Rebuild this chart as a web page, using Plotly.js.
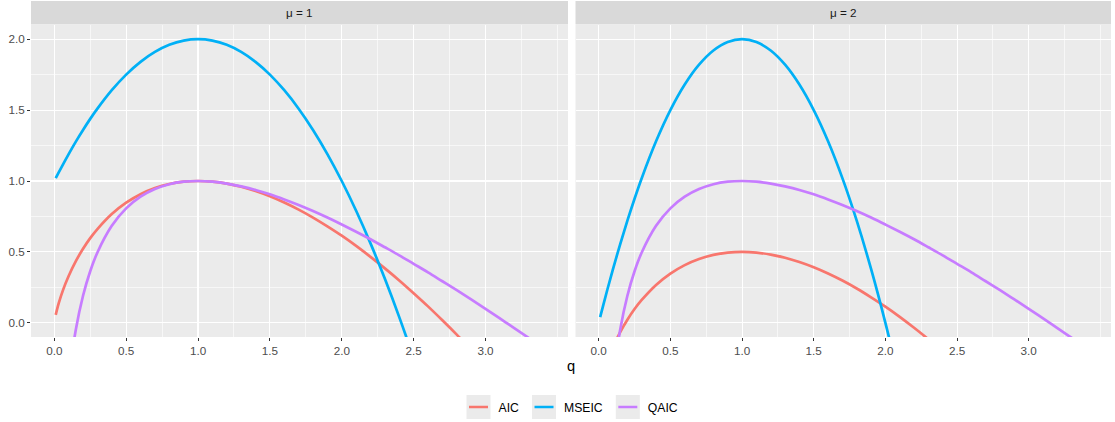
<!DOCTYPE html>
<html>
<head>
<meta charset="utf-8">
<script src="https://cdn.plot.ly/plotly-3.0.1.min.js"></script>
<style>html,body{margin:0;padding:0;background:#fff;}#chart{width:1115px;height:422px;}</style>
</head>
<body>
<div id="chart"></div>
<script>
// q values (x) shared by every curve
const q = [0.01,0.03,0.06,0.1,0.15,0.2,0.25,0.3,0.4,0.5,0.6,0.7,0.8,0.9,1.0,1.1,1.2,1.3,1.4,1.5,1.6,1.7,1.8,1.9,2.0,2.1,2.2,2.3,2.4,2.5,2.6,2.7,2.8,2.9,3.0,3.1,3.2,3.3,3.4];

// panel mu = 1
const aicMu1 = [0.056,0.135,0.229,0.330,0.435,0.522,0.597,0.661,0.767,0.847,0.907,0.950,0.979,0.995,1.000,0.995,0.981,0.959,0.929,0.892,0.848,0.798,0.742,0.680,0.614,0.542,0.465,0.384,0.299,0.209,0.116,0.018,-0.083,-0.188,-0.296,-0.407,-0.522,-0.640,-0.761];
const mseicMu1 = [1.020,1.059,1.116,1.190,1.278,1.360,1.438,1.510,1.640,1.750,1.840,1.910,1.960,1.990,2.000,1.990,1.960,1.910,1.840,1.750,1.640,1.510,1.360,1.190,1.000,0.790,0.560,0.310,0.040,-0.250,-0.560,-0.890,-1.240,-1.610,-2.000,-2.410,-2.840,-3.290,-3.760];
const qaicMu1 = [-2.615,-1.537,-0.873,-0.403,-0.047,0.191,0.364,0.496,0.684,0.807,0.889,0.943,0.977,0.995,1.000,0.995,0.982,0.962,0.937,0.906,0.870,0.831,0.788,0.742,0.693,0.642,0.589,0.533,0.476,0.416,0.356,0.293,0.230,0.165,0.099,0.031,-0.037,-0.106,-0.176];

// panel mu = 2
const aicMu2 = [-0.444,-0.365,-0.271,-0.170,-0.065,0.022,0.097,0.161,0.267,0.347,0.407,0.450,0.479,0.495,0.500,0.495,0.481,0.459,0.429,0.392,0.348,0.298,0.242,0.180,0.114,0.042,-0.035,-0.116,-0.201,-0.291,-0.384,-0.482,-0.583,-0.688,-0.796,-0.907,-1.022,-1.140,-1.261];
const mseicMu2 = [0.040,0.118,0.233,0.380,0.555,0.720,0.875,1.020,1.280,1.500,1.680,1.820,1.920,1.980,2.000,1.980,1.920,1.820,1.680,1.500,1.280,1.020,0.720,0.380,0.000,-0.420,-0.880,-1.380,-1.920,-2.500,-3.120,-3.780,-4.480,-5.220,-6.000,-6.820,-7.680,-8.580,-9.520];
const qaicMu2 = [-2.615,-1.537,-0.873,-0.403,-0.047,0.191,0.364,0.496,0.684,0.807,0.889,0.943,0.977,0.995,1.000,0.995,0.982,0.962,0.937,0.906,0.870,0.831,0.788,0.742,0.693,0.642,0.589,0.533,0.476,0.416,0.356,0.293,0.230,0.165,0.099,0.031,-0.037,-0.106,-0.176];

const seriesNames = ["AIC","MSEIC","QAIC"];
const panelLabels = ["μ = 1","μ = 2"];
const xTickVals = [0,0.5,1,1.5,2,2.5,3];
const xTickText = ["0.0","0.5","1.0","1.5","2.0","2.5","3.0"];
const yTickVals = [0,0.5,1,1.5,2];
const yTickText = ["0.0","0.5","1.0","1.5","2.0"];
const xTitle = "q";

const colors = {AIC:"#F8766D", MSEIC:"#00B0F6", QAIC:"#C77CFF"};
const FONT = "Liberation Sans, Arial, Helvetica, sans-serif";

const panels = [
  {AIC:aicMu1, MSEIC:mseicMu1, QAIC:qaicMu1, xa:"x", ya:"y"},
  {AIC:aicMu2, MSEIC:mseicMu2, QAIC:qaicMu2, xa:"x2", ya:"y2"}
];

const traces = [];
panels.forEach((p, i) => {
  seriesNames.forEach(name => {
    traces.push({
      type:"scatter", mode:"lines", x:q, y:p[name], name:name,
      xaxis:p.xa, yaxis:p.ya, legendgroup:name, showlegend:i===0,
      line:{color:colors[name], width:2.7, shape:"spline", smoothing:1},
      hoverinfo:"skip"
    });
  });
});

const W = 1115, H = 422;
const dom1 = [31/W, 568/W];
const dom2 = [575.5/W, 1111/W];
const yDom = [(H-337)/H, (H-25)/H];
const xRange = [-0.162, 3.574];
const yRange = [-0.1, 2.1];

function xAxis(dom, anchor){
  return {
    domain:dom, anchor:anchor, range:xRange, tickmode:"array", tickvals:xTickVals, ticktext:xTickText,
    showgrid:true, gridcolor:"#FFFFFF", gridwidth:1.1, zeroline:false, showline:false,
    ticks:"outside", ticklen:3, tickwidth:1, tickcolor:"#333333",
    tickfont:{family:FONT, size:11.7, color:"#4D4D4D"},
    minor:{tickmode:"linear", tick0:0, dtick:0.25, showgrid:true, gridcolor:"#FFFFFF", gridwidth:0.6, ticks:""},
    fixedrange:true
  };
}
function yAxis(dom, anchor, labels){
  return {
    domain:dom, anchor:anchor, range:yRange, tickmode:"array", tickvals:yTickVals, ticktext:yTickText,
    showticklabels:labels, ticks:labels ? "outside" : "", ticklen:3, tickwidth:1, tickcolor:"#333333",
    showgrid:true, gridcolor:"#FFFFFF", gridwidth:1.1, zeroline:false, showline:false,
    tickfont:{family:FONT, size:11.7, color:"#4D4D4D"},
    minor:{tickmode:"linear", tick0:0, dtick:0.25, showgrid:true, gridcolor:"#FFFFFF", gridwidth:0.6, ticks:""},
    fixedrange:true
  };
}

const stripY0 = (H-24.5)/H, stripY1 = (H-1)/H;
const shapes = [dom1, dom2].map(d => ({
  type:"rect", xref:"paper", yref:"paper", x0:d[0], x1:d[1], y0:stripY0, y1:stripY1,
  fillcolor:"#D9D9D9", line:{width:0}, layer:"below"
}));
const annotations = [dom1, dom2].map((d, i) => ({
  xref:"paper", yref:"paper", x:(d[0]+d[1])/2, y:(stripY0+stripY1)/2, xanchor:"center", yanchor:"middle",
  text:panelLabels[i], showarrow:false, font:{family:FONT, size:11.7, color:"#1A1A1A"}
}));
annotations.push({
  xref:"paper", yref:"paper", x:(dom1[0]+dom2[1])/2, y:(H-366)/H, xanchor:"center", yanchor:"middle",
  text:xTitle, showarrow:false, font:{family:FONT, size:14.7, color:"#000000"}
});

const layout = {
  width:W, height:H, margin:{l:0, r:0, t:0, b:0},
  paper_bgcolor:"#FFFFFF", plot_bgcolor:"#EBEBEB",
  font:{family:FONT, color:"#000000"},
  xaxis:xAxis(dom1, "y"), xaxis2:xAxis(dom2, "y2"),
  yaxis:yAxis(yDom, "x", true), yaxis2:yAxis(yDom, "x2", false),
  shapes:shapes, annotations:annotations,
  showlegend:true,
  legend:{orientation:"h", x:(dom1[0]+dom2[1])/2, xanchor:"center", y:(H-407)/H, yanchor:"middle",
          font:{family:FONT, size:12.2, color:"#000000"}, bgcolor:"rgba(0,0,0,0)", itemwidth:30, tracegroupgap:0}
};

Plotly.newPlot("chart", traces, layout, {displayModeBar:false, staticPlot:true}).then(gd => {
  // ggplot-style legend keys: grey box behind a shorter line
  const NS = "http://www.w3.org/2000/svg";
  gd.querySelectorAll(".legend .traces").forEach(t => {
    const rect = document.createElementNS(NS, "rect");
    rect.setAttribute("x", 8); rect.setAttribute("y", -12);
    rect.setAttribute("width", 24); rect.setAttribute("height", 24);
    rect.setAttribute("fill", "#EBEBEB");
    t.insertBefore(rect, t.firstChild);
    t.querySelectorAll(".legendlines path").forEach(p => p.setAttribute("d", "M10.5,0h19"));
  });
});
</script>
</body>
</html>
